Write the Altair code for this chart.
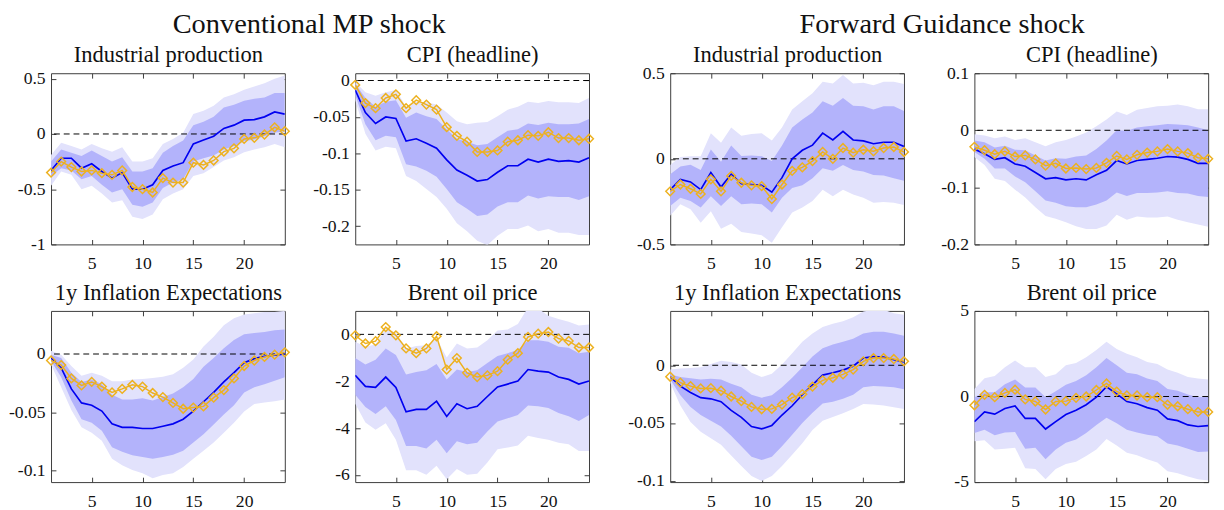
import altair as alt
import pandas as pd

horizon = list(range(1, 25))
x_ticks = [5, 10, 15, 20]

group_titles = ["Conventional MP shock", "Forward Guidance shock"]
panel_titles = ["Industrial production", "CPI (headline)", "1y Inflation Expectations", "Brent oil price"]

# ---------------- Conventional MP shock: Industrial production
c_ip_med = [-0.33, -0.22, -0.22, -0.31, -0.27, -0.34, -0.40, -0.35, -0.50, -0.50, -0.46, -0.33,
            -0.29, -0.26, -0.09, -0.055, -0.02, 0.05, 0.08, 0.125, 0.13, 0.155, 0.20, 0.18]
c_ip_alt = [-0.35, -0.25, -0.30, -0.34, -0.33, -0.355, -0.37, -0.33, -0.48, -0.50, -0.53, -0.40,
            -0.44, -0.44, -0.26, -0.28, -0.24, -0.16, -0.13, -0.045, -0.035, -0.005, 0.06, 0.025]
c_ip_hi68 = [-0.25, -0.14, -0.17, -0.20, -0.15, -0.20, -0.25, -0.21, -0.34, -0.34, -0.31, -0.17,
             -0.11, -0.06, 0.08, 0.11, 0.155, 0.24, 0.265, 0.30, 0.32, 0.33, 0.37, 0.37]
c_ip_lo68 = [-0.38, -0.31, -0.33, -0.41, -0.38, -0.46, -0.53, -0.50, -0.64, -0.66, -0.62, -0.49,
             -0.44, -0.41, -0.25, -0.22, -0.195, -0.14, -0.11, -0.065, -0.05, -0.02, 0.01, 0.025]
c_ip_hi90 = [-0.19, -0.08, -0.11, -0.14, -0.09, -0.13, -0.16, -0.12, -0.25, -0.25, -0.22, -0.09,
             -0.045, 0.01, 0.18, 0.21, 0.255, 0.33, 0.36, 0.40, 0.43, 0.46, 0.50, 0.53]
c_ip_lo90 = [-0.47, -0.34, -0.37, -0.50, -0.47, -0.54, -0.62, -0.60, -0.75, -0.77, -0.73, -0.59,
             -0.54, -0.50, -0.38, -0.355, -0.30, -0.24, -0.21, -0.165, -0.14, -0.12, -0.09, -0.12]

# ---------------- Conventional MP shock: CPI (headline)
c_cpi_med = [-0.013, -0.044, -0.059, -0.050, -0.052, -0.083, -0.080, -0.086, -0.093, -0.109, -0.123, -0.130,
             -0.138, -0.136, -0.126, -0.117, -0.117, -0.108, -0.112, -0.108, -0.111, -0.110, -0.112, -0.106]
c_cpi_alt = [-0.006, -0.031, -0.038, -0.024, -0.019, -0.038, -0.027, -0.033, -0.040, -0.064, -0.076, -0.084,
             -0.098, -0.098, -0.096, -0.084, -0.082, -0.075, -0.076, -0.071, -0.079, -0.079, -0.082, -0.080]
c_cpi_hi68 = [-0.004, -0.024, -0.036, -0.029, -0.027, -0.051, -0.044, -0.049, -0.053, -0.067, -0.080, -0.084,
              -0.089, -0.087, -0.078, -0.069, -0.067, -0.059, -0.061, -0.058, -0.060, -0.060, -0.059, -0.053]
c_cpi_lo68 = [-0.020, -0.060, -0.082, -0.076, -0.078, -0.115, -0.118, -0.124, -0.132, -0.149, -0.167, -0.176,
              -0.186, -0.184, -0.173, -0.167, -0.167, -0.158, -0.162, -0.159, -0.160, -0.160, -0.164, -0.159]
c_cpi_hi90 = [-0.002, -0.016, -0.021, -0.016, -0.013, -0.036, -0.029, -0.030, -0.033, -0.044, -0.056, -0.060,
              -0.058, -0.057, -0.049, -0.040, -0.036, -0.029, -0.031, -0.028, -0.030, -0.030, -0.031, -0.024]
c_cpi_lo90 = [-0.027, -0.073, -0.096, -0.091, -0.093, -0.131, -0.138, -0.149, -0.160, -0.176, -0.196, -0.207,
              -0.220, -0.226, -0.213, -0.204, -0.204, -0.199, -0.207, -0.204, -0.209, -0.209, -0.212, -0.212]

# ---------------- Conventional MP shock: 1y Inflation Expectations
c_ie_med = [-0.0034, -0.012, -0.030, -0.042, -0.044, -0.049, -0.060, -0.063, -0.063, -0.064, -0.064, -0.062,
            -0.060, -0.056, -0.049, -0.041, -0.033, -0.024, -0.016, -0.0075, -0.004, -0.002, -0.001, 0.0]
c_ie_alt = [-0.0056, -0.0095, -0.021, -0.027, -0.024, -0.028, -0.033, -0.030, -0.0265, -0.028, -0.0335, -0.037,
            -0.042, -0.047, -0.046, -0.045, -0.0375, -0.031, -0.021, -0.0103, -0.0056, -0.0025, -0.0006, 0.0014]
c_ie_hi68 = [-0.0006, -0.0034, -0.016, -0.024, -0.022, -0.026, -0.035, -0.039, -0.039, -0.038, -0.040, -0.037,
             -0.034, -0.0285, -0.0215, -0.011, -0.0034, 0.005, 0.012, 0.017, 0.018, 0.019, 0.0204, 0.021]
c_ie_lo68 = [-0.006, -0.020, -0.040, -0.056, -0.059, -0.066, -0.080, -0.084, -0.087, -0.0885, -0.090, -0.0885,
             -0.0866, -0.083, -0.076, -0.069, -0.0606, -0.052, -0.044, -0.033, -0.0285, -0.026, -0.023, -0.020]
c_ie_hi90 = [0.0028, -0.0006, -0.0103, -0.0187, -0.016, -0.0187, -0.0235, -0.0235, -0.022, -0.0215, -0.0207, -0.0196,
             -0.0173, -0.0117, -0.0047, 0.0064, 0.0148, 0.0246, 0.0307, 0.034, 0.035, 0.036, 0.036, 0.037]
c_ie_lo90 = [-0.009, -0.0285, -0.048, -0.063, -0.0676, -0.0746, -0.090, -0.0955, -0.0997, -0.1025, -0.1067, -0.104,
             -0.1025, -0.097, -0.090, -0.083, -0.076, -0.0676, -0.059, -0.0494, -0.043, -0.0416, -0.0405, -0.039]

# ---------------- Conventional MP shock: Brent oil price
c_oil_med = [-1.75, -2.22, -2.26, -1.82, -2.26, -3.30, -3.20, -3.20, -2.85, -3.50, -2.96, -3.17,
             -3.07, -2.65, -2.24, -2.12, -1.99, -1.50, -1.57, -1.61, -1.82, -1.92, -2.12, -1.99]
c_oil_alt = [-0.04, -0.39, -0.29, 0.31, -0.04, -0.60, -0.80, -0.60, -0.08, -1.50, -1.01, -1.64,
             -1.82, -1.75, -1.57, -1.08, -0.80, -0.11, 0.03, 0.10, -0.18, -0.28, -0.56, -0.56]
c_oil_hi68 = [-1.01, -1.29, -1.08, -0.60, -0.875, -1.71, -1.60, -1.53, -1.26, -1.92, -1.50, -1.60,
              -1.53, -1.22, -0.92, -0.80, -0.67, -0.25, -0.25, -0.32, -0.53, -0.57, -0.80, -0.74]
c_oil_lo68 = [-2.57, -3.10, -3.40, -3.07, -3.65, -4.76, -4.76, -4.87, -4.49, -5.07, -4.56, -4.69,
              -4.62, -4.14, -3.72, -3.58, -3.44, -3.03, -3.07, -3.14, -3.35, -3.49, -3.69, -3.44]
c_oil_hi90 = [-0.32, -0.53, -0.43, 0.24, 0.07, -0.60, -0.50, -0.46, -0.18, -0.99, -0.39, -0.60,
              -0.56, -0.25, 0.17, 0.21, 0.44, 1.15, 1.1, 0.79, 0.65, 0.54, 0.375, 0.42]
c_oil_lo90 = [-2.96, -3.76, -4.07, -3.79, -4.49, -5.80, -5.80, -5.99, -5.60, -6.18, -5.74, -5.99,
              -5.94, -5.46, -4.90, -4.83, -4.74, -4.32, -4.42, -4.49, -4.62, -4.69, -4.97, -4.97]

# ---------------- Forward Guidance shock: Industrial production
f_ip_med = [-0.18, -0.12, -0.135, -0.18, -0.08, -0.165, -0.09, -0.145, -0.15, -0.155, -0.195, -0.11,
            0.0, 0.05, 0.08, 0.15, 0.11, 0.16, 0.11, 0.105, 0.088, 0.097, 0.097, 0.072]
f_ip_alt = [-0.19, -0.15, -0.175, -0.205, -0.12, -0.19, -0.10, -0.14, -0.155, -0.16, -0.235, -0.15,
            -0.07, -0.05, -0.013, 0.04, 0.0, 0.063, 0.036, 0.053, 0.044, 0.063, 0.069, 0.04]
f_ip_hi68 = [-0.09, -0.045, -0.035, -0.065, 0.055, -0.017, 0.078, 0.017, 0.02, 0.015, -0.013, 0.078,
             0.183, 0.23, 0.27, 0.336, 0.31, 0.355, 0.31, 0.307, 0.288, 0.307, 0.307, 0.28]
f_ip_lo68 = [-0.275, -0.227, -0.246, -0.284, -0.218, -0.275, -0.218, -0.265, -0.261, -0.265, -0.313, -0.227,
             -0.17, -0.155, -0.113, -0.055, -0.07, -0.036, -0.065, -0.074, -0.094, -0.097, -0.113, -0.128]
f_ip_hi90 = [-0.036, 0.011, 0.015, 0.015, 0.15, 0.094, 0.183, 0.135, 0.145, 0.15, 0.107, 0.183,
             0.288, 0.336, 0.383, 0.45, 0.44, 0.49, 0.44, 0.445, 0.43, 0.45, 0.45, 0.437]
f_ip_lo90 = [-0.332, -0.265, -0.294, -0.374, -0.307, -0.408, -0.38, -0.427, -0.437, -0.447, -0.49, -0.40,
             -0.313, -0.284, -0.246, -0.18, -0.218, -0.18, -0.208, -0.227, -0.256, -0.252, -0.256, -0.27]

# ---------------- Forward Guidance shock: CPI (headline)
f_cpi_med = [-0.033, -0.041, -0.051, -0.048, -0.059, -0.063, -0.074, -0.085, -0.083, -0.087, -0.085, -0.087,
             -0.078, -0.070, -0.053, -0.059, -0.053, -0.051, -0.049, -0.046, -0.047, -0.051, -0.058, -0.058]
f_cpi_alt = [-0.029, -0.035, -0.042, -0.037, -0.046, -0.044, -0.051, -0.062, -0.058, -0.067, -0.066, -0.068,
             -0.066, -0.057, -0.045, -0.051, -0.043, -0.039, -0.037, -0.033, -0.037, -0.040, -0.048, -0.050]
f_cpi_hi68 = [-0.018, -0.021, -0.030, -0.027, -0.034, -0.035, -0.044, -0.053, -0.049, -0.050, -0.046, -0.044,
              -0.033, -0.018, 0.0, -0.001, 0.005, 0.007, 0.009, 0.011, 0.010, 0.009, 0.005, 0.0]
f_cpi_lo68 = [-0.038, -0.050, -0.067, -0.067, -0.081, -0.091, -0.107, -0.123, -0.127, -0.133, -0.135, -0.135,
              -0.130, -0.123, -0.109, -0.115, -0.110, -0.110, -0.109, -0.107, -0.110, -0.111, -0.115, -0.117]
f_cpi_hi90 = [-0.007, -0.009, -0.014, -0.011, -0.017, -0.014, -0.021, -0.028, -0.021, -0.017, -0.011, -0.004,
              0.007, 0.019, 0.033, 0.027, 0.036, 0.039, 0.042, 0.043, 0.045, 0.042, 0.037, 0.037]
f_cpi_lo90 = [-0.047, -0.061, -0.085, -0.089, -0.104, -0.118, -0.135, -0.150, -0.155, -0.161, -0.168, -0.173,
              -0.173, -0.167, -0.148, -0.157, -0.151, -0.153, -0.153, -0.151, -0.157, -0.161, -0.165, -0.169]

# ---------------- Forward Guidance shock: 1y Inflation Expectations
f_ie_med = [-0.0099, -0.018, -0.0235, -0.028, -0.029, -0.0315, -0.039, -0.045, -0.053, -0.055, -0.052, -0.043,
            -0.035, -0.0255, -0.017, -0.0085, -0.0065, -0.0042, -0.0008, 0.0062, 0.0076, 0.007, 0.0048, 0.0028]
f_ie_alt = [-0.0099, -0.015, -0.018, -0.020, -0.0198, -0.022, -0.027, -0.031, -0.036, -0.038, -0.0377, -0.034,
            -0.028, -0.025, -0.0184, -0.013, -0.0108, -0.0079, -0.0037, 0.0034, 0.0062, 0.0062, 0.0054, 0.0034]
f_ie_hi68 = [-0.008, -0.0102, -0.0113, -0.0122, -0.0116, -0.0122, -0.0159, -0.019, -0.0255, -0.028, -0.026, -0.019,
             -0.0108, -0.0017, 0.0076, 0.0147, 0.018, 0.0204, 0.023, 0.0275, 0.029, 0.029, 0.0275, 0.0255]
f_ie_lo68 = [-0.0122, -0.026, -0.036, -0.043, -0.048, -0.053, -0.061, -0.070, -0.079, -0.082, -0.079, -0.070,
             -0.060, -0.050, -0.041, -0.033, -0.0315, -0.029, -0.0255, -0.019, -0.018, -0.0184, -0.019, -0.0207]
f_ie_hi90 = [-0.0037, -0.0028, -0.0023, -0.0017, 0.0011, 0.004, 0.0028, 0.0006, -0.0065, -0.0102, -0.0074, 0.0006,
             0.0105, 0.0204, 0.0275, 0.033, 0.036, 0.038, 0.0416, 0.0465, 0.048, 0.048, 0.045, 0.0436]
f_ie_lo90 = [-0.015, -0.0348, -0.049, -0.0575, -0.063, -0.0688, -0.078, -0.087, -0.0957, -0.100, -0.0957, -0.087,
             -0.0773, -0.0674, -0.056, -0.048, -0.0448, -0.0414, -0.0377, -0.0334, -0.034, -0.0348, -0.0363, -0.0377]

# ---------------- Forward Guidance shock: Brent oil price
f_oil_med = [-1.47, -0.90, -1.03, -0.70, -0.55, -1.28, -1.28, -1.90, -1.47, -1.05, -0.80, -0.48,
             -0.04, 0.57, 0.15, -0.29, -0.42, -0.65, -0.80, -1.31, -1.41, -1.66, -1.75, -1.70]
f_oil_alt = [-0.51, 0.10, -0.04, 0.21, 0.40, -0.17, -0.29, -0.76, -0.29, -0.27, -0.08, 0.0,
             0.38, 0.76, 0.29, 0.06, 0.06, -0.04, -0.04, -0.48, -0.57, -0.74, -0.90, -0.90]
f_oil_hi68 = [-0.04, 0.25, 0.25, 0.72, 1.00, 0.53, 0.53, -0.04, 0.30, 0.69, 0.91, 1.24,
              1.71, 2.25, 1.83, 1.39, 1.30, 1.05, 0.91, 0.44, 0.34, 0.11, -0.04, 0.0]
f_oil_lo68 = [-2.13, -1.94, -2.27, -2.10, -2.08, -3.05, -2.99, -3.66, -3.09, -2.70, -2.51, -2.13,
              -1.66, -1.24, -1.56, -1.94, -2.10, -2.23, -2.32, -2.74, -2.86, -3.05, -3.24, -3.22]
f_oil_hi90 = [0.44, 1.07, 1.20, 1.71, 2.10, 1.71, 1.71, 1.14, 1.30, 1.83, 1.96, 2.29,
              2.72, 3.20, 2.78, 2.50, 2.29, 2.02, 1.90, 1.58, 1.39, 1.14, 1.05, 1.00]
f_oil_lo90 = [-2.61, -2.55, -3.09, -3.05, -2.99, -4.19, -4.23, -4.84, -4.23, -3.94, -3.81, -3.47,
              -3.09, -2.48, -2.86, -3.28, -3.43, -3.66, -3.85, -4.36, -4.48, -4.67, -4.84, -4.90]

# y-axis ranges and tick values per panel
c_ip_dom, c_ip_ticks = [-1.0, 0.55], [-1, -0.5, 0, 0.5]
c_cpi_dom, c_cpi_ticks = [-0.225, 0.01], [-0.2, -0.15, -0.1, -0.05, 0]
c_ie_dom, c_ie_ticks = [-0.11, 0.037], [-0.1, -0.05, 0]
c_oil_dom, c_oil_ticks = [-6.3, 1.0], [-6, -4, -2, 0]
f_ip_dom, f_ip_ticks = [-0.5, 0.5], [-0.5, 0, 0.5]
f_cpi_dom, f_cpi_ticks = [-0.2, 0.1], [-0.2, -0.1, 0, 0.1]
f_ie_dom, f_ie_ticks = [-0.101, 0.047], [-0.1, -0.05, 0]
f_oil_dom, f_oil_ticks = [-5, 5], [-5, 0, 5]

FONT = "Liberation Serif"
TXT = "#111111"
FRAME = "#3a3a3a"
LIGHT = "#e2e2fc"
DARK = "#b3b3fb"
BLUE = "#0000f0"
ORANGE = "#EDB120"
W, H = 239, 175


def panel(title, med, alt_, lo68, hi68, lo90, hi90, dom, yt):
    df = pd.DataFrame({"h": horizon, "med": med, "alt": alt_, "lo68": lo68, "hi68": hi68,
                       "lo90": lo90, "hi90": hi90})
    xs = alt.Scale(domain=[1, 24], nice=False, zero=False)
    ys = alt.Scale(domain=dom, nice=False, zero=False)
    lab_expr = "'' + datum.value"

    x_lab = alt.Axis(values=x_ticks, ticks=False, domain=False, grid=False, labelPadding=11,
                     labelFont=FONT, labelFontSize=18, labelColor=TXT, title=None, orient="bottom",
                     labelExpr=lab_expr, labelFlush=False, labelOverlap=False)
    y_lab = alt.Axis(values=yt, ticks=False, domain=False, grid=False, labelPadding=6,
                     labelFont=FONT, labelFontSize=18, labelColor=TXT, title=None, orient="left",
                     labelExpr=lab_expr, labelOverlap=False)

    def tick_axis(vals, orient):
        return alt.Axis(values=vals, ticks=True, tickSize=5, tickColor=FRAME, tickWidth=1,
                        labels=False, domain=False, grid=False, title=None, orient=orient, offset=-5,
                        minExtent=5, maxExtent=5)

    # top axis: inward ticks and the panel title
    top_axis = alt.Axis(values=x_ticks, ticks=True, tickSize=5, tickColor=FRAME, tickWidth=1,
                        labels=False, domain=False, grid=False, orient="top", offset=-5,
                        minExtent=5, maxExtent=5, title=title, titleFont=FONT, titleFontSize=23,
                        titleFontWeight="normal", titleColor=TXT, titlePadding=12,
                        titleBaseline="alphabetic", titleAnchor="middle")

    base = alt.Chart(df)
    light = base.mark_area(color=LIGHT, opacity=1, clip=True).encode(
        x=alt.X("h:Q", scale=xs, axis=x_lab),
        y=alt.Y("lo90:Q", scale=ys, axis=y_lab), y2="hi90:Q")
    dark = base.mark_area(color=DARK, opacity=1, clip=True).encode(
        x=alt.X("h:Q", scale=xs, axis=tick_axis(x_ticks, "bottom")),
        y=alt.Y("lo68:Q", scale=ys, axis=tick_axis(yt, "left")), y2="hi68:Q")
    zero = alt.Chart(pd.DataFrame({"z": [0]})).mark_rule(
        color="#000000", strokeDash=[6, 4], strokeWidth=1).encode(
        y=alt.Y("z:Q", scale=ys, axis=None))
    blue = base.mark_line(color=BLUE, strokeWidth=1.7, clip=True).encode(
        x=alt.X("h:Q", scale=xs, axis=top_axis),
        y=alt.Y("med:Q", scale=ys, axis=tick_axis(yt, "right")))
    orange = base.mark_line(color=ORANGE, strokeWidth=1.5, clip=True,
                            point=alt.OverlayMarkDef(shape="diamond", filled=False, size=80,
                                                     strokeWidth=1.5, color=ORANGE, clip=False)).encode(
        x=alt.X("h:Q", scale=xs, axis=None),
        y=alt.Y("alt:Q", scale=ys, axis=None))

    return alt.layer(light, dark, zero, blue, orange).resolve_axis(
        x="independent", y="independent").properties(width=W, height=H)


p_c = [
    panel(panel_titles[0], c_ip_med, c_ip_alt, c_ip_lo68, c_ip_hi68, c_ip_lo90, c_ip_hi90, c_ip_dom, c_ip_ticks),
    panel(panel_titles[1], c_cpi_med, c_cpi_alt, c_cpi_lo68, c_cpi_hi68, c_cpi_lo90, c_cpi_hi90, c_cpi_dom, c_cpi_ticks),
    panel(panel_titles[2], c_ie_med, c_ie_alt, c_ie_lo68, c_ie_hi68, c_ie_lo90, c_ie_hi90, c_ie_dom, c_ie_ticks),
    panel(panel_titles[3], c_oil_med, c_oil_alt, c_oil_lo68, c_oil_hi68, c_oil_lo90, c_oil_hi90, c_oil_dom, c_oil_ticks),
]
p_f = [
    panel(panel_titles[0], f_ip_med, f_ip_alt, f_ip_lo68, f_ip_hi68, f_ip_lo90, f_ip_hi90, f_ip_dom, f_ip_ticks),
    panel(panel_titles[1], f_cpi_med, f_cpi_alt, f_cpi_lo68, f_cpi_hi68, f_cpi_lo90, f_cpi_hi90, f_cpi_dom, f_cpi_ticks),
    panel(panel_titles[2], f_ie_med, f_ie_alt, f_ie_lo68, f_ie_hi68, f_ie_lo90, f_ie_hi90, f_ie_dom, f_ie_ticks),
    panel(panel_titles[3], f_oil_med, f_oil_alt, f_oil_lo68, f_oil_hi68, f_oil_lo90, f_oil_hi90, f_oil_dom, f_oil_ticks),
]


def group(title, panels, dx):
    return alt.concat(*panels, columns=2, spacing={"row": 68, "column": 72}, bounds="flush").properties(
        title=alt.TitleParams(title, font=FONT, fontSize=29, fontWeight="normal", color=TXT,
                              anchor="middle", offset=5, dx=dx))


chart = alt.hconcat(group(group_titles[0], p_c, 7), group(group_titles[1], p_f, 21), spacing=31).properties(
    padding={"left": 0, "top": -4, "right": 0, "bottom": 0}
).configure(font=FONT).configure_view(stroke=FRAME, strokeWidth=1)

chart.save("out.html", embed_options={"renderer": "svg", "actions": False})
